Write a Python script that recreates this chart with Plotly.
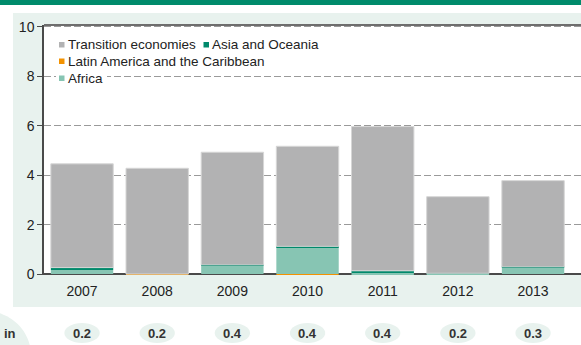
import plotly.graph_objects as go

years = ["2007", "2008", "2009", "2010", "2011", "2012", "2013"]
africa = [0.16, 0.0, 0.33, 1.08, 0.05, 0.01, 0.25]
asia_oceania = [0.10, 0.0, 0.04, 0.04, 0.08, 0.02, 0.04]
latin_america = [0.0, -0.03, 0.0, -0.04, 0.0, 0.0, 0.0]
transition = [4.20, 4.28, 4.56, 4.05, 5.84, 3.10, 3.49]
shares = ["0.2", "0.2", "0.4", "0.4", "0.4", "0.2", "0.3"]
y_ticks = [0, 2, 4, 6, 8, 10]

C_TRANS = "#b2b2b3"
C_ASIA = "#00896b"
C_LATIN = "#f39200"
C_AFRICA = "#87c5b3"
C_MINT = "#e8f2ee"
FONT = "Liberation Sans, Arial, sans-serif"

W, H = 581, 345
ML, MR, MT, MB = 44, 0, 25, 70
PW, PH = W - ML - MR, H - MT - MB
XR = [-0.506, 6.638]
YR = [-0.04, 10.08]


def px(x):
    return (x - ML) / PW


def py(y):
    return (H - MB - y) / PH


def xi(i):
    return (i - XR[0]) / (XR[1] - XR[0])


fig = go.Figure()
series = [
    ("Africa", africa, C_AFRICA, 0),
    ("Asia and Oceania", asia_oceania, C_ASIA, 0),
    ("Latin America and the Caribbean", latin_america, C_LATIN, 0),
    ("Transition economies", transition, C_TRANS, 1),
]
for name, vals, col, lw in series:
    fig.add_trace(go.Bar(
        x=years, y=vals, name=name, showlegend=False, hoverinfo="skip",
        marker=dict(color=col, line=dict(color="#d6d6d6", width=lw)),
    ))

shapes = [
    # mint panel
    dict(type="rect", xref="paper", yref="paper", x0=px(13), x1=1.0, y0=py(307), y1=py(13),
         fillcolor=C_MINT, line=dict(width=0), layer="below"),
    # white plot area
    dict(type="rect", xref="paper", yref="paper", x0=0, x1=1, y0=0, y1=1,
         fillcolor="white", line=dict(width=0), layer="below"),
    # top band
    dict(type="rect", xref="paper", yref="paper", x0=px(0), x1=1.0, y0=py(5), y1=py(0),
         fillcolor="#008b6b", line=dict(width=0), layer="below"),
    # left circle
    dict(type="circle", xref="paper", yref="paper", x0=px(-60), x1=px(31), y0=py(400), y1=py(311),
         fillcolor=C_MINT, line=dict(width=0), layer="below"),
    # top border
    dict(type="line", xref="paper", yref="paper", x0=0, x1=1, y0=1, y1=1,
         line=dict(color="#6e6e6e", width=2)),
]
annotations = []
for i, s in enumerate(shares):
    shapes.append(dict(type="circle", xref="paper", yref="paper",
                       x0=xi(i - 0.235), x1=xi(i + 0.235), y0=py(343), y1=py(323),
                       fillcolor=C_MINT, line=dict(width=0), layer="below"))
    annotations.append(dict(x=xi(i), xref="paper", y=py(333), yref="paper", text=f"<b>{s}</b>",
                            showarrow=False, font=dict(family=FONT, size=13, color="#333333"),
                            xanchor="center", yanchor="middle"))
annotations.append(dict(x=px(2), xref="paper", y=py(333), yref="paper", text="<b>in</b>",
                        showarrow=False, font=dict(family=FONT, size=13, color="#333333"),
                        xanchor="left", yanchor="middle"))

legend_items = [
    ("Transition economies", C_TRANS, 59, 44.5, False),
    ("Asia and Oceania", C_ASIA, 203.5, 44.5, False),
    ("Latin America and the Caribbean", C_LATIN, 59, 61, False),
    ("Africa", C_AFRICA, 59, 78, True),
]
for name, col, x, y, bg in legend_items:
    if bg:
        shapes.append(dict(type="rect", xref="paper", yref="paper",
                           x0=px(x - 3), x1=px(x + 48), y0=py(y + 7), y1=py(y - 7),
                           fillcolor="white", line=dict(width=0)))
    shapes.append(dict(type="rect", xref="paper", yref="paper",
                       x0=px(x), x1=px(x + 5.5), y0=py(y + 3), y1=py(y - 2.5),
                       fillcolor=col, line=dict(width=0)))
    annotations.append(dict(x=px(x + 6.5), xref="paper", y=py(y), yref="paper",
                            text=name, showarrow=False,
                            xanchor="left", yanchor="middle",
                            font=dict(family=FONT, size=13.5, color="#222222")))

fig.update_layout(
    width=W, height=H,
    margin=dict(l=ML, r=MR, t=MT, b=MB, pad=0),
    barmode="relative", bargap=0.17,
    paper_bgcolor="white", plot_bgcolor="rgba(0,0,0,0)",
    font=dict(family=FONT, size=14, color="#222222"),
    showlegend=False,
    shapes=shapes, annotations=annotations,
    xaxis=dict(type="category", range=XR, showgrid=False, zeroline=False, showline=False,
               ticks="", tickfont=dict(size=14, color="#222222"), ticklabelstandoff=6),
    yaxis=dict(range=YR, tickvals=y_ticks, showgrid=True, gridcolor="#9a9a9a", gridwidth=1.2,
               griddash="7px,3px", zeroline=True, zerolinecolor="#4a4a4a", zerolinewidth=1.5,
               showline=True, linecolor="#4a4a4a", linewidth=1.5,
               ticks="outside", ticklen=5, tickcolor="#4a4a4a", tickwidth=1,
               tickfont=dict(size=14, color="#222222")),
)

fig.write_html("out.html", config={"displayModeBar": False},
               post_script="document.body.style.margin='0';")
